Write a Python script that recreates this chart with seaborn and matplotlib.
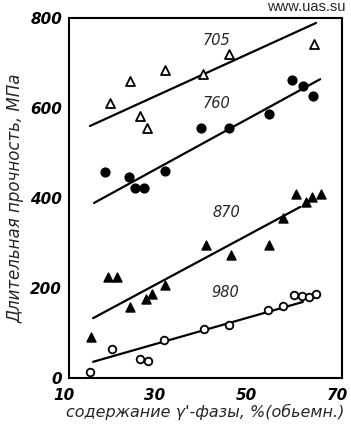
import matplotlib
matplotlib.use("Agg")
import matplotlib.pyplot as plt
import matplotlib.transforms as mtransforms
import seaborn as sns
import pandas as pd

# data (x = vol.% gamma' phase, y = MPa)
x_705 = [19.0, 23.4, 25.6, 27.1, 31.1, 39.5, 45.2, 63.8]
y_705 = [611, 660, 582, 556, 684, 676, 720, 742]

x_760 = [18.0, 23.2, 24.5, 26.5, 31.1, 39.0, 45.2, 54.0, 59.0, 61.4, 63.6]
y_760 = [458, 447, 422, 422, 460, 556, 556, 587, 662, 649, 627]

x_870 = [14.8, 18.6, 20.5, 23.4, 26.9, 28.2, 31.1, 40.1, 45.6, 54.0, 57.0, 59.9, 62.1, 63.4, 65.4]
y_870 = [91, 224, 224, 158, 176, 187, 207, 296, 273, 296, 356, 409, 391, 402, 409]

x_980 = [14.6, 19.5, 25.6, 27.4, 30.9, 39.7, 45.2, 53.7, 57.0, 59.5, 61.2, 62.7, 64.3]
y_980 = [13, 64, 42, 38, 84, 109, 118, 151, 160, 184, 182, 180, 187]

# trend lines (end points as drawn)
line_x_705 = [14.6, 64.3]
line_y_705 = [560, 789]
line_x_760 = [15.5, 65.2]
line_y_760 = [389, 664]
line_x_870 = [15.3, 60.8]
line_y_870 = [133, 380]
line_x_980 = [15.3, 61.4]
line_y_980 = [36, 169]

temps = ["705", "760", "870", "980"]
label_x = [42.5, 42.5, 44.7, 44.3]
label_y = [751, 611, 367, 189]

x_ticks = [10, 20, 30, 40, 50, 60, 70]
x_ticklabels = ["10", "", "30", "", "50", "", "70"]
y_ticks = [0, 100, 200, 300, 400, 500, 600, 700, 800]
y_ticklabels = ["0", "", "200", "", "400", "", "600", "", "800"]

sns.set_style("white")
plt.rcParams["font.family"] = ["DejaVu Sans"]

fig = plt.figure(figsize=(3.51, 4.29), dpi=100)
ax = fig.add_axes([69 / 351, 1 - 378 / 429, 273 / 351, 360 / 429])

# points
styles = {
    "705": dict(marker="^", facecolor="white", edgecolor="black", s=42, linewidth=1.3),
    "760": dict(marker="o", facecolor="black", edgecolor="black", s=40, linewidth=1.0),
    "870": dict(marker="^", facecolor="black", edgecolor="black", s=42, linewidth=1.0),
    "980": dict(marker="o", facecolor="white", edgecolor="black", s=30, linewidth=1.3),
}
pts = {"705": (x_705, y_705), "760": (x_760, y_760), "870": (x_870, y_870), "980": (x_980, y_980)}
lines = {"705": (line_x_705, line_y_705), "760": (line_x_760, line_y_760),
         "870": (line_x_870, line_y_870), "980": (line_x_980, line_y_980)}

for t in temps:
    lx, ly = lines[t]
    sns.lineplot(x=lx, y=ly, ax=ax, color="black", linewidth=1.6, zorder=2)
    px, py = pts[t]
    st = styles[t]
    sns.scatterplot(x=px, y=py, ax=ax, marker=st["marker"], s=st["s"],
                    facecolor=st["facecolor"], edgecolor=st["edgecolor"],
                    linewidth=st["linewidth"], zorder=3, legend=False)

for t, tx, ty in zip(temps, label_x, label_y):
    ax.text(tx, ty, t, fontsize=10.5, style="italic", ha="center", va="center")

ax.set_xlim(10, 70)
ax.set_ylim(0, 800)
ax.set_xticks(x_ticks)
ax.set_xticklabels(x_ticklabels, fontsize=11, style="italic", weight="semibold")
ax.set_yticks(y_ticks)
ax.set_yticklabels(y_ticklabels, fontsize=11, style="italic", weight="semibold")
ax.tick_params(direction="in", length=4, width=1.2, colors="black", pad=5)
ax.tick_params(axis="x", pad=7)
for sp in ax.spines.values():
    sp.set_color("black")
    sp.set_linewidth(1.5)

# x tick labels sit a bit left of their ticks in the reference
shift = mtransforms.ScaledTranslation(-5 / 100, 0, fig.dpi_scale_trans)
for lab in ax.get_xticklabels():
    lab.set_transform(lab.get_transform() + shift)

ax.set_xlabel("содержание γ'-фазы, %(обьемн.)", fontsize=11.5, style="italic", labelpad=1)
ax.set_ylabel("Длительная прочность, МПа", fontsize=12, style="italic", labelpad=4)

fig.text(346 / 351, 1 - 7 / 429, "www.uas.su", fontsize=10.5, ha="right", va="center",
         family="Liberation Sans")

fig.savefig("out.png", dpi=100)
